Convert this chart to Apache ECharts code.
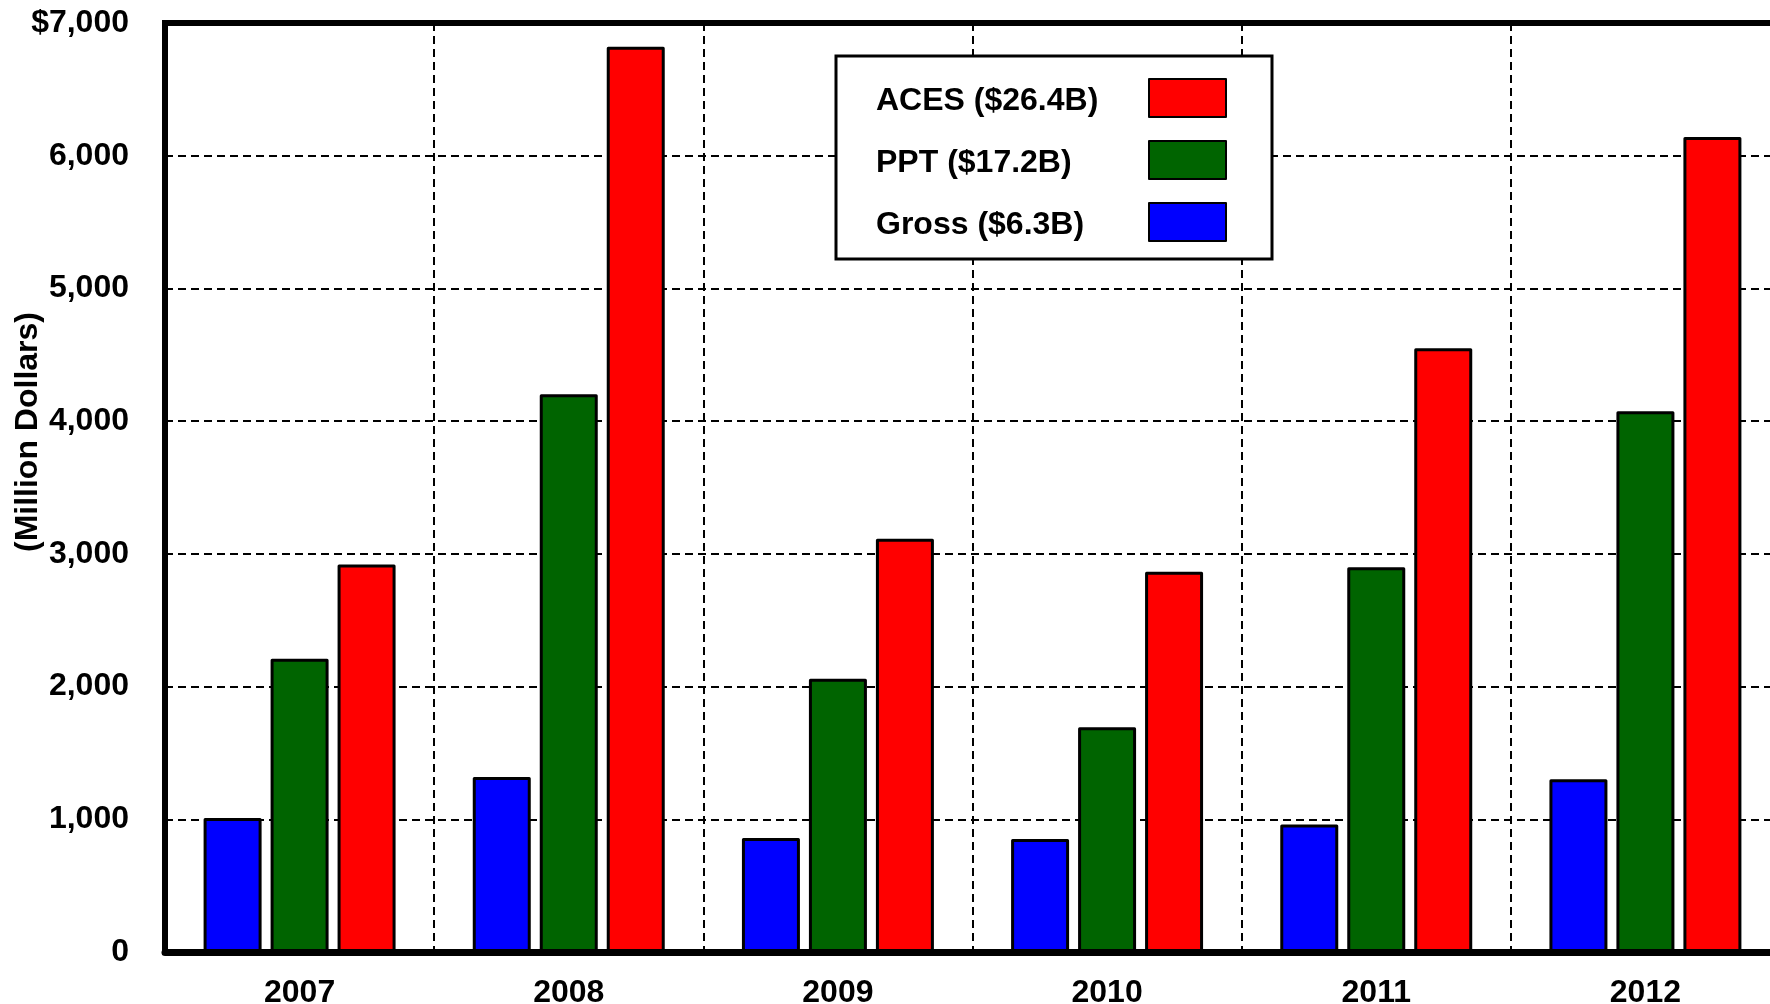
<!DOCTYPE html>
<html>
<head>
<meta charset="utf-8">
<script src="https://cdn.jsdelivr.net/npm/echarts@6/dist/echarts.min.js"></script>
<style>
html,body{margin:0;padding:0;background:#fff;overflow:hidden;}
#c{width:1770px;height:1004px;}
</style>
</head>
<body>
<div id="c"></div>
<script>
const years = ['2007', '2008', '2009', '2010', '2011', '2012'];
const grossName = 'Gross ($6.3B)';
const pptName = 'PPT ($17.2B)';
const acesName = 'ACES ($26.4B)';
const grossValues = [1010, 1318, 859, 851, 961, 1301];
const pptValues = [2210, 4202, 2058, 1693, 2900, 4074];
const acesValues = [2920, 6821, 3113, 2866, 4550, 6141];
const yTicks = [0, 1000, 2000, 3000, 4000, 5000, 6000, 7000];
const yAxisTitle = '(Million Dollars)';

const FONT = '"Liberation Sans", Arial, sans-serif';
const chart = echarts.init(document.getElementById('c'), null, {renderer: 'canvas', width: 1770, height: 1004});

function barSeries(name, data, color) {
  return {
    name: name, type: 'bar', data: data,
    barWidth: 58, barGap: '15.5%',
    itemStyle: {color: color, borderColor: '#000', borderWidth: 3, borderJoin: 'round'},
    emphasis: {disabled: true}
  };
}

chart.setOption({
  animation: false,
  backgroundColor: '#fff',
  grid: {
    left: 165, top: 23, width: 1615, bottom: 52,
    outerBoundsMode: 'none', containLabel: false,
    show: true, borderColor: '#000', borderWidth: 6
  },
  legend: {
    orient: 'vertical', left: 836, top: 56,
    data: [acesName, pptName, grossName],
    align: 'right', icon: 'rect',
    itemWidth: 77, itemHeight: 38, itemGap: 22,
    padding: [22, 45, 17, 40],
    backgroundColor: '#fff', borderColor: '#000', borderWidth: 3,
    selectedMode: false,
    itemStyle: {borderColor: '#000', borderWidth: 2},
    formatter: '{a|{name}}',
    textStyle: {
      fontFamily: FONT, fontWeight: 'bold', fontSize: 32, color: '#000',
      rich: {a: {fontFamily: FONT, fontWeight: 'bold', fontSize: 32, color: '#000', width: 268, align: 'left', padding: [6, 0, 0, 0]}}
    }
  },
  graphic: [{
    type: 'text',
    x: 28, y: 432,
    rotation: Math.PI / 2,
    style: {text: yAxisTitle, font: 'bold 32px "Liberation Sans", Arial, sans-serif', fill: '#000', align: 'center', verticalAlign: 'middle'}
  }],
  xAxis: {
    type: 'category', data: years,
    axisLine: {show: true, lineStyle: {color: '#000', width: 7}},
    axisTick: {show: false},
    splitLine: {show: true, lineStyle: {color: '#000', width: 2, type: [8, 5]}},
    axisLabel: {fontFamily: FONT, fontWeight: 'bold', fontSize: 32, color: '#000', margin: 25}
  },
  yAxis: {
    type: 'value', min: yTicks[0], max: yTicks[yTicks.length - 1], interval: 1000,
    axisLine: {show: true, lineStyle: {color: '#000', width: 5}},
    axisTick: {show: false},
    splitLine: {show: true, lineStyle: {color: '#000', width: 2, type: [8, 5]}},
    axisLabel: {
      fontFamily: FONT, fontWeight: 'bold', fontSize: 32, color: '#000', margin: 36,
      formatter: function (v) {
        const s = v.toLocaleString('en-US');
        return v === yTicks[yTicks.length - 1] ? '$' + s : s;
      }
    }
  },
  series: [
    barSeries(grossName, grossValues, '#0000ff'),
    barSeries(pptName, pptValues, '#006400'),
    barSeries(acesName, acesValues, '#ff0000')
  ]
});
</script>
</body>
</html>
